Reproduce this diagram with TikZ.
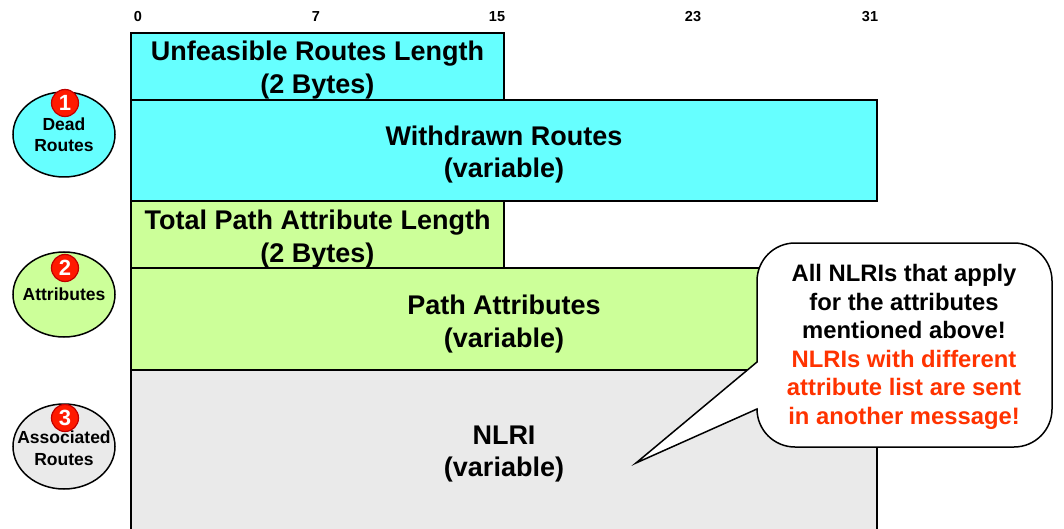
\documentclass[tikz,border=0pt]{standalone}
\usepackage{fontspec}
\setmainfont{Liberation Sans}
\usetikzlibrary{shapes.geometric}
\definecolor{cyanf}{HTML}{66FFFF}
\definecolor{greenf}{HTML}{CCFF99}
\definecolor{grayf}{HTML}{EAEAEA}
\definecolor{redtxt}{HTML}{FF3300}
\definecolor{badgered}{HTML}{FF1A00}
\definecolor{badgeline}{HTML}{C00000}
\tikzset{
  field/.style={draw=black, line width=1.5pt, inner sep=0pt, outer sep=0pt},
  fieldtxt/.style={align=center, font=\bfseries\fontsize{27}{32.5}\selectfont, inner sep=0pt},
  bitnum/.style={font=\bfseries\fontsize{14.5}{17}\selectfont, inner sep=0pt},
  oval/.style={ellipse, draw=black, line width=1.5pt, minimum width=102pt, minimum height=85pt, inner sep=0pt},
  ovaltxt/.style={align=center, inner sep=0pt, font=\bfseries\fontsize{17.5}{21.5}\selectfont},
  badge/.style={circle, fill=badgered, draw=badgeline, line width=1.2pt, minimum size=27pt, inner sep=0pt, text=white, font=\bfseries\fontsize{22}{22}\selectfont},
  calltxt/.style={align=center, font=\bfseries\fontsize{23.8}{28.5}\selectfont, inner sep=0pt}
}
\begin{document}
\begin{tikzpicture}[x=1pt,y=-1pt]
\useasboundingbox (0,0) rectangle (1064,529);
\clip (0,0) rectangle (1064,529);
% bit numbers
\node[bitnum] (b0) at (138,17) {0};
\node[bitnum] (b7) at (316,17) {7};
\node[bitnum] (b15) at (497,17) {15};
\node[bitnum] (b23) at (693,17) {23};
\node[bitnum] (b31) at (870,17) {31};
% fields
\draw[field, fill=grayf] (131,370) rectangle (877,545);
\node[fieldtxt] (nlri) at (504,454) {NLRI\\(variable)};
\draw[field, fill=greenf] (131,268) rectangle (877,370);
\node[fieldtxt] (pa) at (504,324) {Path Attributes\\(variable)};
\draw[field, fill=greenf] (131,201) rectangle (504,268);
\node[fieldtxt] (tpal) at (317.5,239) {Total Path Attribute Length\\(2 Bytes)};
\draw[field, fill=cyanf] (131,100) rectangle (877,201);
\node[fieldtxt] (wr) at (504,154.5) {Withdrawn Routes\\(variable)};
\draw[field, fill=cyanf] (131,33) rectangle (504,100);
\node[fieldtxt] (url) at (317.5,70) {Unfeasible Routes Length\\(2 Bytes)};
% callout
\draw[line width=1.5pt, fill=white, line join=miter]
  (757,362) -- (757,281)
  .. controls (757,260) and (774,243) .. (795,243)
  -- (1014,243)
  .. controls (1035,243) and (1052,260) .. (1052,281)
  -- (1052,409)
  .. controls (1052,430) and (1035,447) .. (1014,447)
  -- (795,447)
  .. controls (774,447) and (757,430) .. (757,409)
  -- (636,463) -- cycle;
\node[calltxt] (note) at (904,347) {All NLRIs that apply\\for the attributes\\mentioned above!\\\textcolor{redtxt}{NLRIs with different}\\\textcolor{redtxt}{attribute list are sent}\\\textcolor{redtxt}{in another message!}};
% ovals
\node[oval, fill=cyanf] (o1) at (64,134.5) {};
\node[ovaltxt] (o1t) at (o1) {Dead\\Routes};
\node[oval, fill=greenf] (o2) at (64,294.5) {};
\node[ovaltxt] (o2t) at (o2) {Attributes};
\node[oval, fill=grayf] (o3) at (64,446.5) {};
\node[ovaltxt] (o3t) at (64,448) {Associated\\Routes};
\node[badge] (n1) at (65,103) {1};
\node[badge] (n2) at (65,268) {2};
\node[badge] (n3) at (65,418) {3};
\end{tikzpicture}
\end{document}
